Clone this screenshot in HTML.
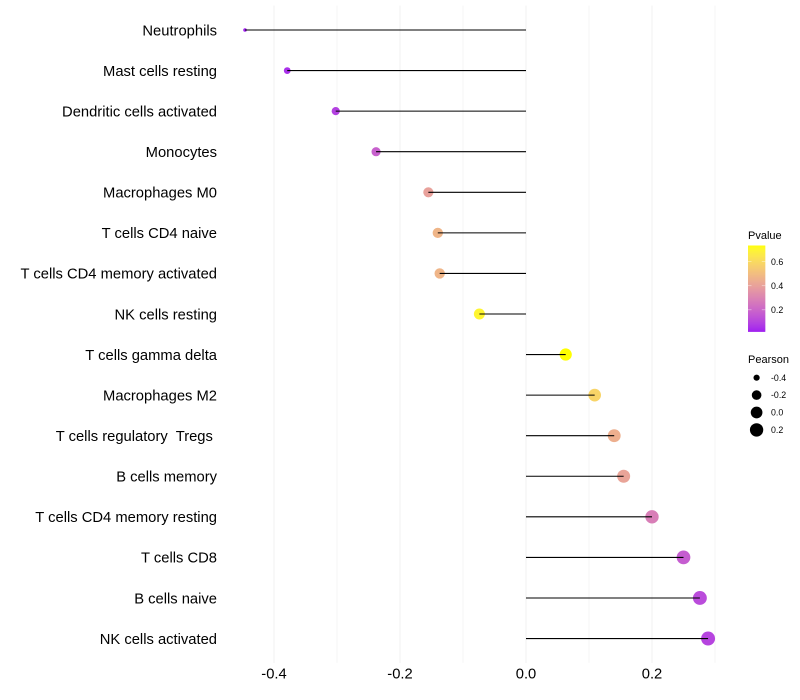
<!DOCTYPE html>
<html>
<head>
<meta charset="utf-8">
<title>Lollipop chart</title>
<style>
html,body{margin:0;padding:0;background:#fff;width:800px;height:700px;overflow:hidden}
svg{display:block}
text{font-family:"Liberation Sans",sans-serif}
</style>
</head>
<body>
<svg id="chart" width="800" height="700" viewBox="0 0 800 700" xmlns="http://www.w3.org/2000/svg">
<rect width="800" height="700" fill="#fff"/>
</svg>
<script>
const categories = ["Neutrophils","Mast cells resting","Dendritic cells activated","Monocytes","Macrophages M0","T cells CD4 naive","T cells CD4 memory activated","NK cells resting","T cells gamma delta","Macrophages M2","T cells regulatory  Tregs ","B cells memory","T cells CD4 memory resting","T cells CD8","B cells naive","NK cells activated"];
const pearson = [-0.446,-0.379,-0.302,-0.238,-0.155,-0.14,-0.137,-0.074,0.063,0.109,0.14,0.155,0.2,0.25,0.276,0.289];
const pvalue = [0.02,0.05,0.09,0.18,0.40,0.47,0.47,0.70,0.735,0.58,0.45,0.41,0.28,0.17,0.12,0.10];
const xTicks = [-0.4,-0.2,0.0,0.2];
const xMinorTicks = [-0.3,-0.1,0.1,0.3];
const pvalueTicks = [0.6,0.4,0.2];
const pearsonTicks = [-0.4,-0.2,0.0,0.2];

const svg = document.getElementById('chart');
const NS = 'http://www.w3.org/2000/svg';
function mk(tag, attrs, parent){
  const e = document.createElementNS(NS, tag);
  for (const k in attrs) e.setAttribute(k, attrs[k]);
  (parent || svg).appendChild(e);
  return e;
}
const xScale = v => 526 + v * 630;
const rowStep = 40.57;
const yScale = i => 30 + i * rowStep;
const panelTop = yScale(0) - 0.6 * rowStep, panelBottom = yScale(15) + 0.6 * rowStep;
const pMin = Math.min(...pvalue), pMax = Math.max(...pvalue);
const rMin = Math.min(...pearson), rMax = Math.max(...pearson);
const sizeScale = v => 1.8 + 5.2 * Math.sqrt(Math.max(0, (v - rMin) / (rMax - rMin)));

function toLab(rgb){
  const f = c => { c /= 255; return c > 0.04045 ? Math.pow((c + 0.055) / 1.055, 2.4) : c / 12.92; };
  const [r,g,b] = rgb.map(f);
  const X = (0.4124*r + 0.3576*g + 0.1805*b) / 0.95047;
  const Y = 0.2126*r + 0.7152*g + 0.0722*b;
  const Z = (0.0193*r + 0.1192*g + 0.9505*b) / 1.08883;
  const h = t => t > 0.008856 ? Math.cbrt(t) : 7.787*t + 16/116;
  return [116*h(Y) - 16, 500*(h(X) - h(Y)), 200*(h(Y) - h(Z))];
}
function fromLab(l){
  const fy = (l[0] + 16) / 116, fx = fy + l[1] / 500, fz = fy - l[2] / 200;
  const inv = t => t*t*t > 0.008856 ? t*t*t : (t - 16/116) / 7.787;
  const X = inv(fx)*0.95047, Y = inv(fy), Z = inv(fz)*1.08883;
  const lin = [3.2406*X - 1.5372*Y - 0.4986*Z, -0.9689*X + 1.8758*Y + 0.0415*Z, 0.0557*X - 0.2040*Y + 1.0570*Z];
  const g = c => { c = Math.min(1, Math.max(0, c)); return Math.round(255 * (c > 0.0031308 ? 1.055*Math.pow(c, 1/2.4) - 0.055 : 12.92*c)); };
  return 'rgb(' + lin.map(g).join(',') + ')';
}
const labLow = toLab([160,32,240]), labHigh = toLab([255,255,0]);
const colorAt = t => fromLab(labLow.map((a, i) => a + (labHigh[i] - a) * t));
const colorScale = p => colorAt(Math.min(1, Math.max(0, (p - pMin) / (pMax - pMin))));

// grid
const grid = mk('g', {});


xMinorTicks.forEach(v => {
  const l = mk('line', {x1:xScale(v), x2:xScale(v), y1:panelTop, y2:panelBottom, stroke:'#f1f1f1', 'stroke-width':0.7}, grid);
  
  
});
xTicks.forEach(v => {
  const l = mk('line', {x1:xScale(v), x2:xScale(v), y1:panelTop, y2:panelBottom, stroke:'#f0f0f0', 'stroke-width':1}, grid);
  
  
});

// points first, stems above them
categories.forEach((c, i) => {
  const pt = mk('circle', {cx:xScale(pearson[i]), cy:yScale(i), r:sizeScale(pearson[i]), fill:colorScale(pvalue[i])});
  
  
});
categories.forEach((c, i) => {
  const st = mk('line', {x1:xScale(0), x2:xScale(pearson[i]), y1:yScale(i), y2:yScale(i), stroke:'#000', 'stroke-width':1.07});
  
  
  const lb = mk('text', {x:217, y:yScale(i) + 5.3, 'text-anchor':'end', 'font-size':14.75, fill:'#000', style:'white-space:pre'});
  lb.textContent = c;
  
  
});

// x axis labels
xTicks.forEach(v => {
  const t = mk('text', {x:xScale(v), y:678.5, 'text-anchor':'middle', 'font-size':14.75, fill:'#000'});
  t.textContent = v.toFixed(1);
  
  
});

// pvalue legend
const pTitle = mk('text', {x:748, y:239, 'font-size':11, fill:'#000'});
pTitle.textContent = 'Pvalue';


const barTop = 245.5, barBottom = 331.5, barH = barBottom - barTop;
const bar = mk('g', {});


const barSteps = 86;
for (let s = 0; s < barSteps; s++) {
  mk('rect', {x:748, y:barTop + s * barH / barSteps, width:17.3, height:barH / barSteps + 0.4, fill:colorAt(1 - (s + 0.5) / barSteps)}, bar);
}
const barY = p => barBottom - (p - pMin) / (pMax - pMin) * barH;
pvalueTicks.forEach(v => {
  const y = barY(v);
  mk('line', {x1:748, x2:751.5, y1:y, y2:y, stroke:'#fff', 'stroke-width':0.5, 'stroke-opacity':0.8}, bar);
  mk('line', {x1:761.8, x2:765.3, y1:y, y2:y, stroke:'#fff', 'stroke-width':0.5, 'stroke-opacity':0.8}, bar);
  const t = mk('text', {x:771, y:y + 3.1, 'font-size':8.8, fill:'#000'});
  t.textContent = v.toFixed(1);
  
  
});

// pearson legend
const sTitle = mk('text', {x:748, y:363, 'font-size':11, fill:'#000'});
sTitle.textContent = 'Pearson';


pearsonTicks.forEach((v, i) => {
  const y = 377.7 + i * 17.4;
  const k = mk('circle', {cx:756.6, cy:y, r:sizeScale(v), fill:'#000'});
  
  
  const t = mk('text', {x:771, y:y + 3.1, 'font-size':8.8, fill:'#000'});
  t.textContent = v.toFixed(1);
  
  
});
</script>
</body>
</html>
